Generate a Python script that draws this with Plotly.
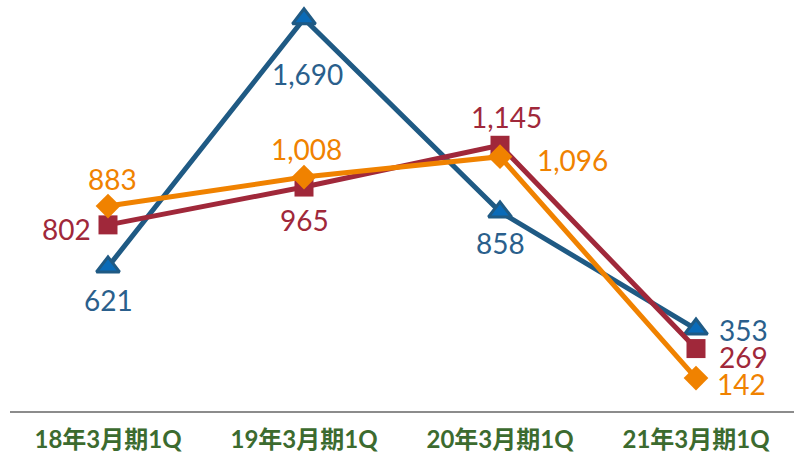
import plotly.graph_objects as go

categories = ["18年3月期1Q", "19年3月期1Q", "20年3月期1Q", "21年3月期1Q"]
blue_vals = [621, 1690, 858, 353]
red_vals = [802, 965, 1145, 269]
orange_vals = [883, 1008, 1096, 142]

BLUE = "#1F5A84"
BLUE_FILL = "#0A6BB8"
RED = "#A0283A"
ORANGE = "#F08200"
GREEN = "#3C6B2F"
FONT = "Lato, Noto Sans CJK JP, sans-serif"

fig = go.Figure()
fig.add_trace(go.Scatter(x=categories, y=blue_vals, mode="lines+markers",
                         line=dict(color=BLUE, width=5),
                         marker=dict(symbol="triangle-up", size=20, color=BLUE_FILL,
                                     line=dict(color=BLUE, width=3)),
                         showlegend=False, cliponaxis=False))
fig.add_trace(go.Scatter(x=categories, y=red_vals, mode="lines+markers",
                         line=dict(color=RED, width=5),
                         marker=dict(symbol="square", size=19, color=RED),
                         showlegend=False, cliponaxis=False))
fig.add_trace(go.Scatter(x=categories, y=orange_vals, mode="lines+markers",
                         line=dict(color=ORANGE, width=5),
                         marker=dict(symbol="diamond", size=19, color=ORANGE),
                         showlegend=False, cliponaxis=False))

# label offsets (pixels) per series/point
blue_off = [(0, -33), (3, -55), (0, -31), (47, -1)]
red_off = [(-42, -4), (0, -33), (6, 28), (47, -8)]
orange_off = [(4, 27), (2, 28), (72, -3), (45, -6)]

def add_labels(vals, offs, color):
    for c, v, (dx, dy) in zip(categories, vals, offs):
        fig.add_annotation(x=c, y=v, text=f"{v:,}", showarrow=False,
                           xshift=dx, yshift=dy,
                           font=dict(family=FONT, size=28, color=color))

add_labels(blue_vals, blue_off, "#2A5F8C")
add_labels(red_vals, red_off, RED)
add_labels(orange_vals, orange_off, ORANGE)

fig.update_layout(
    width=794, height=459,
    margin=dict(l=10, r=0, t=0, b=48, autoexpand=False),
    plot_bgcolor="white", paper_bgcolor="white",
    xaxis=dict(type="category", range=[-0.5, 3.5], showgrid=False, automargin=False,
               showline=True, linecolor="#8C8C8C", linewidth=1.5,
               ticks="", tickfont=dict(family=FONT, size=24, color=GREEN, weight="bold"),
               ticklabelstandoff=6),
    yaxis=dict(range=[0, 1771], visible=False, showgrid=False, zeroline=False,
               automargin=False),
)
fig.write_html("out.html", config={"displayModeBar": False},
               post_script="document.body.style.margin='0';document.body.style.padding='0';")
